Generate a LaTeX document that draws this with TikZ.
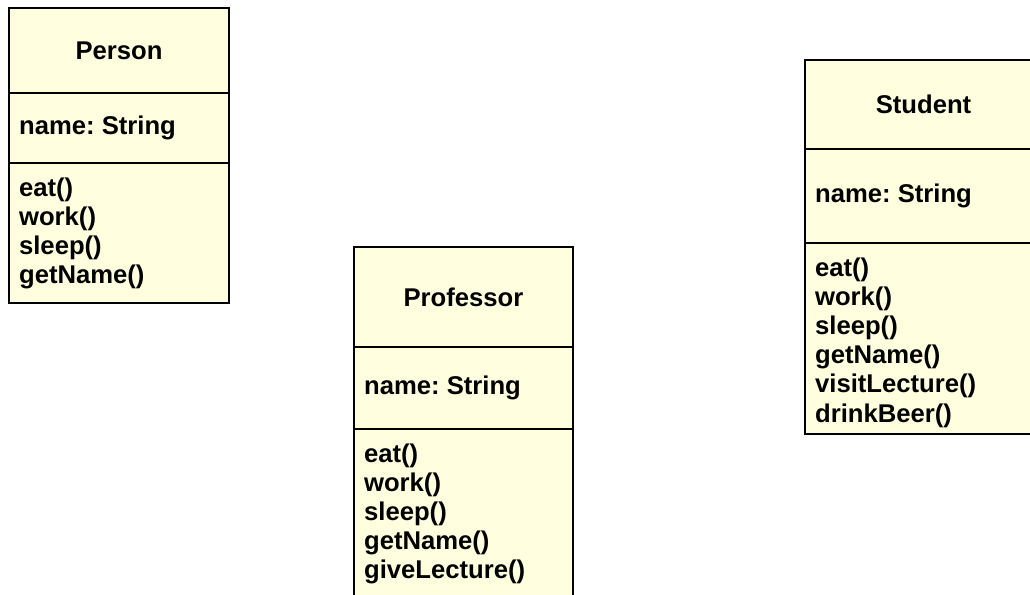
\documentclass[tikz,border=0pt]{standalone}
\usepackage{fontspec}
\setmainfont{Liberation Sans}
\usetikzlibrary{positioning}
\definecolor{ClassFill}{HTML}{FFFFE0}
\frenchspacing
\tikzset{every picture/.style={/utils/exec={\fontsize{14.6}{16.6}\selectfont\bfseries}}}

\begin{document}
\begin{tikzpicture} [
			classpart/.style={draw,fill=ClassFill,line width=0.05cm,inner sep=0pt},
			member/.style={inner sep=0pt},
			members/.style={inner sep=0pt,align=left}
		]
			\path[use as bounding box,clip] (0,0) rectangle (20.6,11.88);
			% Person
			\node at (2.38,10.87) [classpart,minimum width=44mm,minimum height=17mm] (personhead) {Person};
			\node at (2.38,9.32) [classpart,minimum width=44mm,minimum height=14mm] (personattr) {};
			\node at (2.38,7.22) [classpart,minimum width=44mm,minimum height=28mm] (personops) {};
			\node[member, right=2.2mm of personattr.west] (personname) {name: String};
			\node[members, below right=3.1mm and 2.2mm of personops.north west] (personmeth) {eat()\\work()\\sleep()\\getName()};
			% Professor
			\node at (9.27,5.94) [classpart,minimum width=43.8mm,minimum height=20mm] (profhead) {Professor};
			\node at (9.27,4.12) [classpart,minimum width=43.8mm,minimum height=16.4mm] (profattr) {};
			\node at (9.27,1.50) [classpart,minimum width=43.8mm,minimum height=36mm] (profops) {};
			\node[member, right=2.2mm of profattr.west] (profname) {name: String};
			\node[members, below right=3.1mm and 2.2mm of profops.north west] (profmeth) {eat()\\work()\\sleep()\\getName()\\giveLecture()};
			% Student
			\node at (18.47,9.79) [classpart,minimum width=47.4mm,minimum height=17.8mm] (studhead) {Student};
			\node at (18.47,7.96) [classpart,minimum width=47.4mm,minimum height=18.8mm] (studattr) {};
			\node at (18.47,5.11) [classpart,minimum width=47.4mm,minimum height=38.2mm] (studops) {};
			\node[member, right=2.2mm of studattr.west] (studname) {name: String};
			\node[members, below right=3.1mm and 2.2mm of studops.north west] (studmeth) {eat()\\work()\\sleep()\\getName()\\visitLecture()\\drinkBeer()};
		\end{tikzpicture}
\end{document}
